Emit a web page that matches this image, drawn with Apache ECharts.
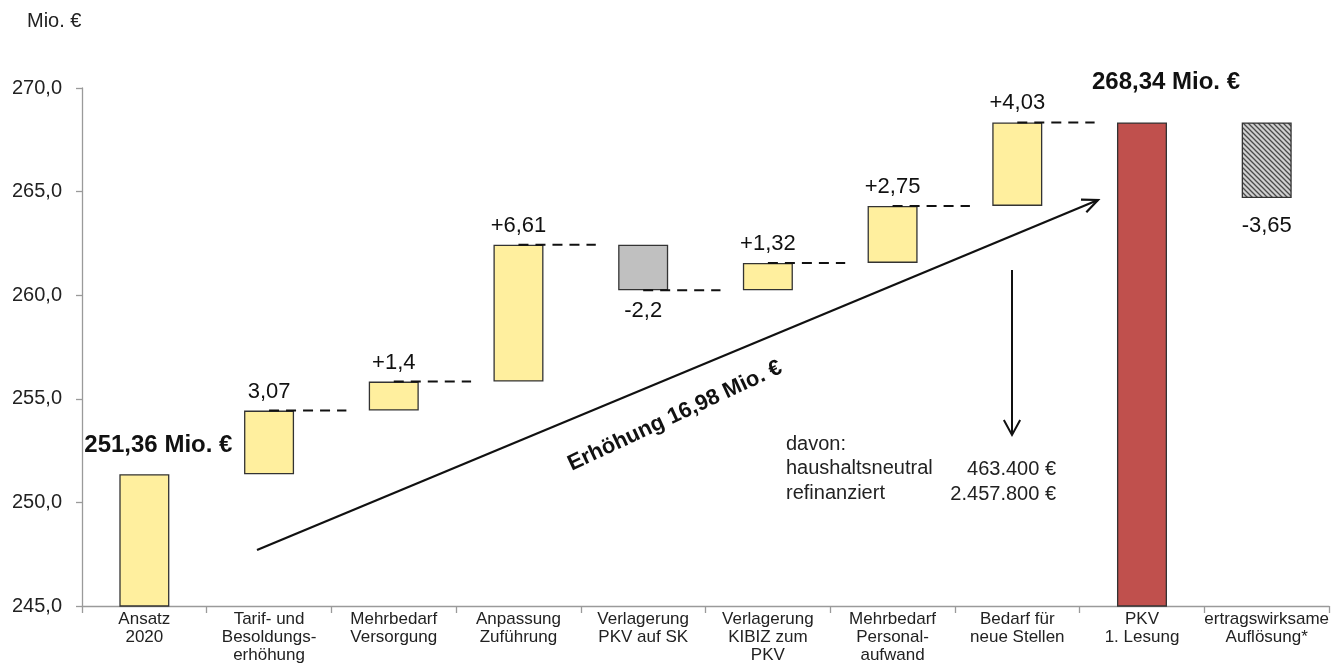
<!DOCTYPE html>
<html>
<head>
<meta charset="utf-8">
<script src="https://cdn.jsdelivr.net/npm/echarts@6/dist/echarts.min.js"></script>
<style>
  html, body { margin: 0; padding: 0; background: #fff; }
  #chart { width: 1332px; height: 665px; }
</style>
</head>
<body>
<div id="chart"></div>
<script>
// Budget bridge: Ansatz 2020 -> PKV 1. Lesung (Mio. €)
const categories = [
  'Ansatz\n2020',
  'Tarif- und\nBesoldungs-\nerhöhung',
  'Mehrbedarf\nVersorgung',
  'Anpassung\nZuführung',
  'Verlagerung\nPKV auf SK',
  'Verlagerung\nKIBIZ zum\nPKV',
  'Mehrbedarf\nPersonal-\naufwand',
  'Bedarf für\nneue Stellen',
  'PKV\n1. Lesung',
  'ertragswirksame\nAuflösung*'
];
// 'total' bars start at the axis, 'delta' bars float on the running sum
const kinds = ['total', 'delta', 'delta', 'delta', 'delta', 'delta', 'delta', 'delta', 'total', 'delta'];
const values = [251.36, 3.07, 1.4, 6.61, -2.2, 1.32, 2.75, 4.03, 268.34, -3.65];
const valueLabels = ['251,36 Mio. €', '3,07', '+1,4', '+6,61', '-2,2', '+1,32', '+2,75', '+4,03', '268,34 Mio. €', '-3,65'];
const yTicks = [245, 250, 255, 260, 265, 270];

const YELLOW = '#FFEF9E', GREY = '#C0C0C0', RED = '#C0504D', EDGE = '#333333';

// hatched fill for the release bar
function hatch() {
  const c = document.createElement('canvas');
  c.width = 5; c.height = 5;
  const g = c.getContext('2d');
  g.fillStyle = '#d0d0d0';
  g.fillRect(0, 0, 5, 5);
  g.strokeStyle = '#4a4a4a';
  g.lineWidth = 1.3;
  g.beginPath();
  g.moveTo(-1, -1); g.lineTo(6, 6);
  g.moveTo(-1, 4); g.lineTo(1, 6);
  g.moveTo(4, -1); g.lineTo(6, 1);
  g.stroke();
  return c;
}

// running sums -> floating base / visible height
const bases = [], heights = [], ends = [];
let run = 0;
values.forEach((v, i) => {
  if (kinds[i] === 'total') {
    run = v;
    bases.push(0); heights.push(v);
  } else {
    const lo = Math.min(run, run + v);
    bases.push(lo); heights.push(Math.abs(v));
    if (i === values.length - 1) { ends.push(run); return; } // release bar does not move the level further
    run += v;
  }
  ends.push(run);
});

function fillFor(i) {
  if (i === values.length - 1) return { image: hatch(), repeat: 'repeat' };
  if (kinds[i] === 'total') return i === 0 ? YELLOW : RED;
  return values[i] < 0 ? GREY : YELLOW;
}

const visibleData = heights.map((h, i) => {
  const neg = kinds[i] === 'delta' && values[i] < 0;
  const lab = {
    show: true,
    formatter: valueLabels[i],
    position: neg ? 'bottom' : 'top',
    distance: neg ? 10 : 8,
    fontSize: 22,
    color: '#111',
    fontFamily: 'Liberation Sans, Arial, sans-serif'
  };
  if (i === values.length - 1) lab.distance = 17;
  if (kinds[i] === 'total') {
    lab.fontWeight = 'bold';
    lab.fontSize = 24;
    lab.offset = i === 0 ? [14, -9] : [24, -20];
  }
  return { value: h, itemStyle: { color: fillFor(i) }, label: lab };
});

// dashed connectors from each bar's end level towards the next bar
const connectors = [];
for (let i = 1; i < values.length - 2; i++) connectors.push([i, ends[i]]);

const chart = echarts.init(document.getElementById('chart'), null, { renderer: 'canvas' });

const arrowStart = [257, 550], arrowEnd = [1098, 200];
function arrowHead(tip, dirAngle, len, spread) {
  const a1 = dirAngle + Math.PI - spread, a2 = dirAngle + Math.PI + spread;
  return [
    [tip[0] + len * Math.cos(a1), tip[1] + len * Math.sin(a1)],
    tip,
    [tip[0] + len * Math.cos(a2), tip[1] + len * Math.sin(a2)]
  ];
}
const mainAng = Math.atan2(arrowEnd[1] - arrowStart[1], arrowEnd[0] - arrowStart[0]);

chart.setOption({
  animation: false,
  textStyle: { fontFamily: 'Liberation Sans, Arial, sans-serif' },
  grid: { left: 82, right: 2, top: 88, bottom: 59, containLabel: false },
  xAxis: {
    type: 'category',
    data: categories,
    axisLine: { lineStyle: { color: '#9a9a9a', width: 1.3 } },
    axisTick: { show: true, length: 7, alignWithLabel: false, lineStyle: { color: '#9a9a9a', width: 1.3 } },
    axisLabel: {
      interval: 0, margin: 4, color: '#222', fontSize: 17, lineHeight: 18,
      fontFamily: 'Liberation Sans Narrow, Arial Narrow, Liberation Sans, sans-serif'
    }
  },
  yAxis: {
    type: 'value',
    min: yTicks[0], max: yTicks[yTicks.length - 1], interval: 5,
    axisLine: { show: true, lineStyle: { color: '#9a9a9a', width: 1.3 } },
    axisTick: { show: true, length: 6, lineStyle: { color: '#9a9a9a', width: 1.3 } },
    splitLine: { show: false },
    axisLabel: {
      margin: 20, fontSize: 20, color: '#222',
      formatter: v => v.toFixed(1).replace('.', ',')
    }
  },
  series: [
    {
      type: 'bar', stack: 'wf', barWidth: 50, silent: true,
      itemStyle: { color: 'transparent' },
      data: bases
    },
    {
      type: 'bar', stack: 'wf', barWidth: 50,
      itemStyle: { borderColor: EDGE, borderWidth: 1.3 },
      data: visibleData
    },
    {
      type: 'custom',
      z: 5,
      data: connectors,
      encode: { x: 0, y: 1 },
      renderItem: (params, api) => {
        const p = api.coord([api.value(0), api.value(1)]);
        const band = api.size([1, 0])[0];
        return {
          type: 'line',
          shape: { x1: p[0], y1: p[1], x2: p[0] + band * 0.62, y2: p[1] },
          style: { stroke: '#111', lineWidth: 2, lineDash: [10, 7] }
        };
      }
    }
  ],
  graphic: [
    { type: 'text', left: 27, top: 11, style: { text: 'Mio. €', fontSize: 20, fill: '#222', fontFamily: 'Liberation Sans, Arial, sans-serif' } },
    {
      type: 'polyline', z: 10,
      shape: { points: [arrowStart, arrowEnd] },
      style: { stroke: '#111', lineWidth: 2.2, fill: null }
    },
    {
      type: 'polyline', z: 10,
      shape: { points: arrowHead(arrowEnd, mainAng, 17, 0.42) },
      style: { stroke: '#111', lineWidth: 2.2, fill: null }
    },
    {
      type: 'text', z: 10, x: 675, y: 416, rotation: 25 * Math.PI / 180,
      style: {
        text: 'Erhöhung 16,98 Mio. €', fontSize: 22, fontWeight: 'bold', fill: '#111',
        textAlign: 'center', textVerticalAlign: 'middle',
        fontFamily: 'Liberation Sans, Arial, sans-serif'
      }
    },
    {
      type: 'polyline', z: 10,
      shape: { points: [[1012, 270], [1012, 435]] },
      style: { stroke: '#111', lineWidth: 2, fill: null }
    },
    {
      type: 'polyline', z: 10,
      shape: { points: arrowHead([1012, 435], Math.PI / 2, 17, 0.5) },
      style: { stroke: '#111', lineWidth: 2, fill: null }
    },
    { type: 'text', left: 786, top: 432, style: { text: 'davon:\nhaushaltsneutral\nrefinanziert', fontSize: 20, lineHeight: 24.5, fill: '#222', fontFamily: 'Liberation Sans, Arial, sans-serif' } },
    { type: 'text', right: 1332 - 1056, top: 457, style: { text: '463.400 €\n2.457.800 €', fontSize: 20, lineHeight: 25, fill: '#222', textAlign: 'right', fontFamily: 'Liberation Sans, Arial, sans-serif' } }
  ]
});
</script>
</body>
</html>
